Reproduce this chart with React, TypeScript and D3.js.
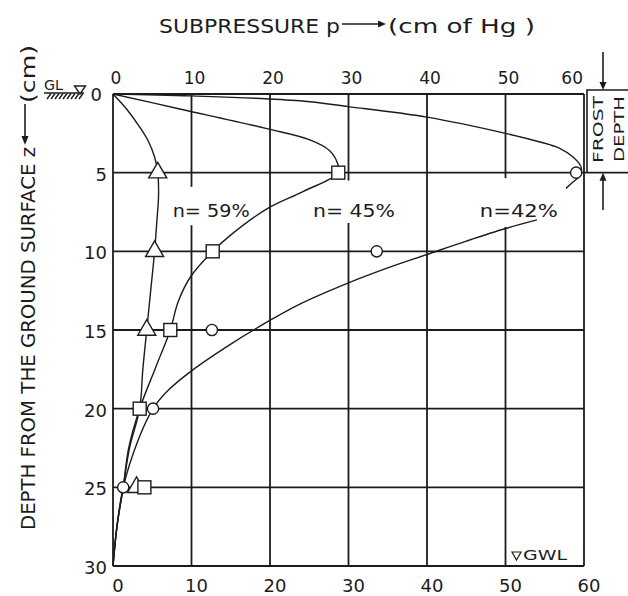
import React from "react";
import * as d3 from "d3";

const W = 628;
const H = 596;

const pTicks = [0, 10, 20, 30, 40, 50, 60];
const zTicks = [0, 5, 10, 15, 20, 25, 30];

// curves: [p (cm Hg), z (cm)]
const curveN59: [number, number][] = [
  [0, 0], [1.8, 1.0], [3.4, 2.1], [4.5, 3.0], [5.3, 4.0], [5.7, 5], [5.8, 6.5],
  [5.6, 8], [5.3, 10], [4.8, 12.5], [4.3, 15], [3.8, 17.5], [3.4, 20], [2.1, 22.5],
  [1.3, 25], [0.5, 27.5], [0, 30],
];
const curveN45: [number, number][] = [
  [0, 0], [8.5, 0.95], [19.6, 2.2], [25, 2.9], [27.6, 3.6], [28.6, 4.4], [28.7, 5],
  [24.2, 6.2], [19.6, 7.3], [14.9, 9.0], [12.7, 10], [9.9, 11.6], [8.3, 13.2],
  [7.3, 15], [5.5, 17.3], [3.4, 20], [2.0, 22.5], [1.3, 25], [0.5, 27.5], [0, 30],
];
const curveN42Upper: [number, number][] = [
  [0, 0], [10, 0.12], [23.8, 0.43], [30, 0.8], [40, 1.47], [50, 2.5], [54.4, 3.05],
  [56.9, 3.45], [58.6, 4.0], [59.6, 4.6], [59.6, 5.1], [58.6, 5.6], [57.7, 6.0],
];
const curveN42Lower: [number, number][] = [
  [54, 8.0], [50, 8.55], [45, 9.35], [40, 10.2], [35, 11.05], [30, 12.0], [23.8, 13.35],
  [19.6, 14.5], [15, 15.9], [10, 17.6], [7, 18.85], [5.1, 20], [3.2, 22], [1.3, 25],
  [0.5, 27.5], [0, 30],
];

const trianglePts: [number, number][] = [[5.7, 5], [5.3, 10], [4.3, 15], [3.0, 25]];
const squarePts: [number, number][] = [[28.7, 5], [12.7, 10], [7.3, 15], [3.4, 20], [4.0, 25]];
const circlePts: [number, number][] = [[59, 5], [33.6, 10], [12.6, 15], [5.1, 20], [1.3, 25]];

const seriesLabels = [
  { text: "n= 59%", p: 12.5, z: 7.8, len: 77 },
  { text: "n= 45%", p: 30.7, z: 7.8, len: 82 },
  { text: "n=42%", p: 51.7, z: 7.8, len: 78 },
];

// vertical grid lines interrupted around the labels: [p, zFrom, zTo]
const gridGaps: [number, number, number][] = [[10, 5.9, 8.35], [30, 5.5, 8.2], [50, 5.35, 8.45]];

const FONT = "DejaVu Sans";
const INK = "#1c1c1c";

export default function App() {
  const x = d3.scaleLinear().domain([0, 60]).range([113, 584]);
  const y = d3.scaleLinear().domain([0, 30]).range([94, 566]);
  const line = d3
    .line<[number, number]>()
    .x((d) => x(d[0]))
    .y((d) => y(d[1]))
    .curve(d3.curveCatmullRom.alpha(0.5));
  const tri = d3.symbol().type(d3.symbolTriangle).size(140)()!;

  const gapFor = (p: number) => gridGaps.find((g) => g[0] === p);

  return (
    <svg
      width={W}
      height={H}
      viewBox={`0 0 ${W} ${H}`}
      style={{ position: "absolute", left: 0, top: 0, background: "#fff" }}
      fontFamily={FONT}
    >
      <rect x={0} y={0} width={W} height={H} fill="#fff" />
      {/* grid */}
      <g stroke={INK} strokeWidth={1.8}>
        {zTicks.map((z) => (
          <line key={"h" + z} x1={x(0)} x2={x(60)} y1={y(z)} y2={y(z)} />
        ))}
        {pTicks.map((p) => {
          const g = gapFor(p);
          if (g) {
            return (
              <g key={"v" + p}>
                <line x1={x(p)} x2={x(p)} y1={y(0)} y2={y(g[1])} />
                <line x1={x(p)} x2={x(p)} y1={y(g[2])} y2={y(30)} />
              </g>
            );
          }
          return <line key={"v" + p} x1={x(p)} x2={x(p)} y1={y(0)} y2={y(30)} />;
        })}
      </g>

      {/* curves */}
      <g fill="none" stroke={INK} strokeWidth={1.4}>
        <path d={line(curveN59)!} />
        <path d={line(curveN45)!} />
        <path d={line(curveN42Upper)!} />
        <path d={line(curveN42Lower)!} />
      </g>

      {/* markers */}
      <g fill="#fff" stroke={INK} strokeWidth={1.4}>
        {trianglePts.map((d, i) => (
          <path key={"t" + i} d={tri} transform={`translate(${x(d[0])},${y(d[1])})`} />
        ))}
        {circlePts.map((d, i) => (
          <circle key={"c" + i} cx={x(d[0])} cy={y(d[1])} r={5.6} />
        ))}
        {squarePts.map((d, i) => (
          <rect key={"s" + i} x={x(d[0]) - 6.5} y={y(d[1]) - 6.5} width={13} height={13} />
        ))}
      </g>

      {/* series labels */}
      <g fill={INK} fontSize={17}>
        {seriesLabels.map((l) => (
          <text
            key={l.text}
            x={x(l.p) - l.len / 2}
            y={y(l.z)}
            textLength={l.len}
            lengthAdjust="spacingAndGlyphs"
          >
            {l.text}
          </text>
        ))}
      </g>

      {/* top tick labels */}
      <g fill={INK} fontSize={17}>
        {pTicks.map((p) => (
          <text
            key={"tt" + p}
            x={p === 60 ? x(p) - 1 : x(p) + 3}
            y={84}
            textAnchor={p === 60 ? "end" : "middle"}
          >
            {p}
          </text>
        ))}
      </g>
      {/* bottom tick labels */}
      <g fill={INK} fontSize={18}>
        {pTicks.map((p) => (
          <text key={"bt" + p} x={x(p) + 5} y={592} textAnchor="middle">
            {p}
          </text>
        ))}
      </g>
      {/* left tick labels */}
      <g fill={INK} fontSize={18}>
        {zTicks.map((z) => (
          <text key={"lt" + z} x={z === 0 ? 102 : 107} y={y(z) + (z === 0 ? 6.5 : 8)} textAnchor="end">
            {z}
          </text>
        ))}
      </g>

      {/* title */}
      <g fill={INK} fontSize={20}>
        <text x={159} y={33} textLength={181} lengthAdjust="spacingAndGlyphs">
          SUBPRESSURE p
        </text>
        <line x1={342} x2={379} y1={24} y2={24} stroke={INK} strokeWidth={1.6} />
        <polygon points="378,20.5 386,24 378,27.5" />
        <text x={388} y={33} textLength={147} lengthAdjust="spacingAndGlyphs">
          (cm of Hg )
        </text>
      </g>

      {/* y axis title */}
      <g fill={INK} fontSize={19}>
        <text
          transform="translate(35,530) rotate(-90)"
          textLength={383}
          lengthAdjust="spacingAndGlyphs"
        >
          DEPTH FROM THE GROUND SURFACE z
        </text>
        <line x1={25} x2={25} y1={104} y2={137} stroke={INK} strokeWidth={1.6} />
        <polygon points="21.5,136 25,145 28.5,136" />
        <text transform="translate(35,103) rotate(-90)" textLength={58} lengthAdjust="spacingAndGlyphs">
          (cm)
        </text>
      </g>

      {/* GL symbol */}
      <g stroke={INK} fill="none" strokeWidth={1.4}>
        <line x1={44} x2={84} y1={93} y2={93} />
        {d3.range(47, 83, 4).map((xx) => (
          <line key={"h" + xx} x1={xx} y1={99} x2={xx + 4} y2={93.5} />
        ))}
        <polygon points="74.5,86 85.5,86 80,94" fill="#fff" />
      </g>
      <text x={44} y={90} fontSize={14} fill={INK} textLength={19} lengthAdjust="spacingAndGlyphs">
        GL
      </text>

      {/* frost depth bracket */}
      <g stroke={INK} strokeWidth={1.6} fill="none">
        <path d={`M628,90 H587 V${y(5)}`} />
        <line x1={x(60)} x2={628} y1={y(5)} y2={y(5)} />
        <line x1={603} x2={603} y1={52} y2={84} />
        <line x1={603} x2={603} y1={210} y2={179} />
      </g>
      <g fill={INK}>
        <polygon points="599.5,82 603,90 606.5,82" />
        <polygon points={`599.5,${y(5) + 8} 603,${y(5)} 606.5,${y(5) + 8}`} />
      </g>
      <g fill={INK} fontSize={14}>
        <text transform="translate(603,163) rotate(-90)" textLength={67} lengthAdjust="spacingAndGlyphs">
          FROST
        </text>
        <text transform="translate(624,162) rotate(-90)" textLength={66} lengthAdjust="spacingAndGlyphs">
          DEPTH
        </text>
      </g>

      {/* GWL */}
      <polygon points="512,552 521,552 516.5,560" fill="#fff" stroke={INK} strokeWidth={1.2} />
      <text x={523} y={560} fontSize={14} fill={INK} textLength={44} lengthAdjust="spacingAndGlyphs">
        GWL
      </text>
    </svg>
  );
}
